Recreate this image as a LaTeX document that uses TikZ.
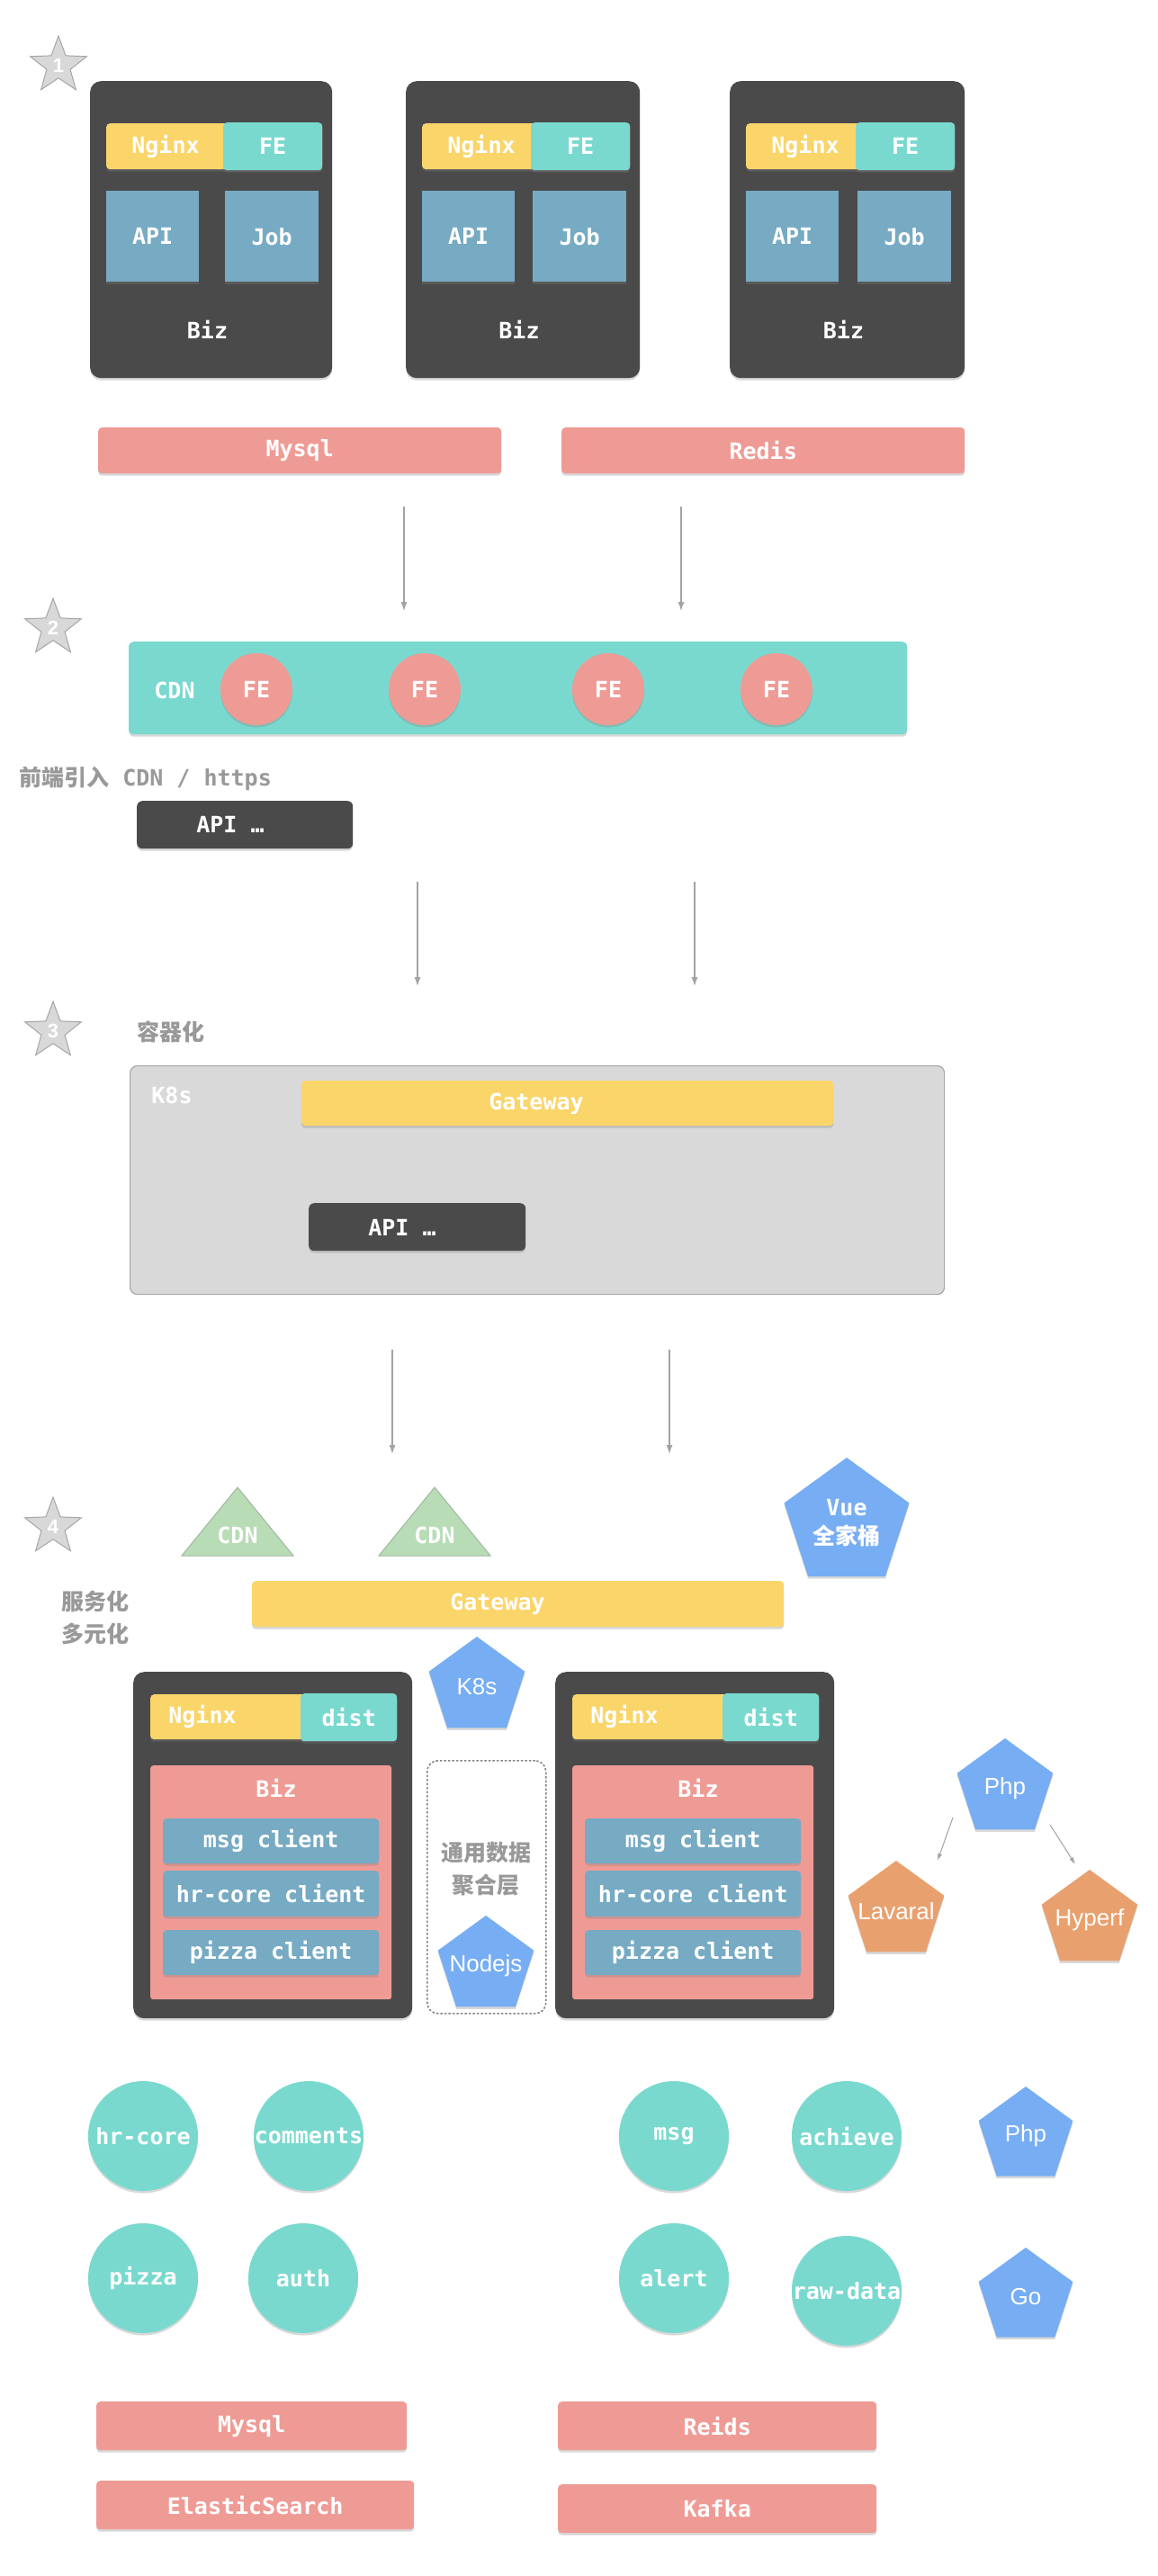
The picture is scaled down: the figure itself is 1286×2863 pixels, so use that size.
\documentclass[tikz,border=0pt]{standalone}
\usepackage{fontspec}
\setmonofont{DejaVu Sans Mono}
\setsansfont{Liberation Sans}
\newfontfamily\cjkFamily{Noto Sans CJK SC}
\usetikzlibrary{positioning, shapes.geometric, shadows, arrows.meta}
\tikzstyle{canvasPx} = [x = 1pt, y = -1pt]
\definecolor{darkGray}{RGB}{74,74,74}
\definecolor{nginxYellow}{RGB}{250,213,106}
\definecolor{feTeal}{RGB}{122,217,207}
\definecolor{apiBlue}{RGB}{119,170,195}
\definecolor{storePink}{RGB}{239,155,149}
\definecolor{k8sGray}{RGB}{217,217,217}
\definecolor{k8sBorder}{RGB}{168,168,168}
\definecolor{cdnGreen}{RGB}{184,220,182}
\definecolor{cdnBorder}{RGB}{160,184,158}
\definecolor{pentaBlue}{RGB}{119,173,243}
\definecolor{pentaOrange}{RGB}{232,161,110}
\definecolor{captionGray}{RGB}{153,153,153}
\definecolor{arrowGray}{RGB}{163,163,163}
\definecolor{layerDash}{RGB}{128,136,128}
\definecolor{starGray}{RGB}{216,216,216}
\definecolor{starBorder}{RGB}{166,166,166}
\newcommand{\monoFont}{\fontsize{25}{30}\selectfont\ttfamily\bfseries}
\newcommand{\sansFont}{\fontsize{26}{30}\selectfont\sffamily}
\newcommand{\cjkFont}{\fontsize{25}{36}\selectfont\cjkFamily\bfseries}
\newcommand{\starFont}{\fontsize{22}{26}\selectfont\sffamily\bfseries}
\tikzstyle{softShadow} = [drop shadow={opacity=0.3, shadow xshift=0pt, shadow yshift=-2.5pt}]
\tikzstyle{boxBase} = [inner sep=0pt, anchor=north west, text=white, font=\monoFont]
\tikzstyle{darkBox} = [boxBase, fill=darkGray, rounded corners=12pt, softShadow]
\tikzstyle{nginxBar} = [boxBase, fill=nginxYellow, rounded corners=4pt, softShadow]
\tikzstyle{feBar} = [boxBase, fill=feTeal, rounded corners=4pt, softShadow]
\tikzstyle{apiBox} = [boxBase, fill=apiBlue, softShadow]
\tikzstyle{clientBox} = [boxBase, fill=apiBlue, rounded corners=4pt, softShadow]
\tikzstyle{pinkBox} = [boxBase, fill=storePink, rounded corners=3pt]
\tikzstyle{storeBar} = [boxBase, fill=storePink, rounded corners=4pt, softShadow]
\tikzstyle{cdnBar} = [boxBase, fill=feTeal, rounded corners=5pt, softShadow]
\tikzstyle{k8sBox} = [boxBase, fill=k8sGray, draw=k8sBorder, line width=1.2pt, rounded corners=8pt]
\tikzstyle{layerBox} = [boxBase, draw=layerDash, line width=1.6pt, dash pattern=on 2.5pt off 2pt, rounded corners=12pt]
\tikzstyle{labelText} = [inner sep=0pt, text=white, font=\monoFont]
\tikzstyle{captionText} = [inner sep=0pt, text=captionGray, font=\monoFont]
\tikzstyle{cjkCaption} = [inner sep=0pt, text=captionGray, font=\cjkFont, align=center]
\tikzstyle{feCircle} = [circle, fill=storePink, minimum size=80pt, inner sep=0pt, text=white, font=\monoFont, softShadow]
\tikzstyle{serviceCircle} = [circle, fill=feTeal, minimum size=122pt, inner sep=0pt, text=white, font=\monoFont, softShadow]
\tikzstyle{pentaShape} = [regular polygon, regular polygon sides=5, inner sep=0pt, softShadow]
\tikzstyle{pentaText} = [inner sep=0pt, text=white, font=\sansFont, align=center]
\tikzstyle{cdnTri} = [fill=cdnGreen, draw=cdnBorder, line width=1pt]
\tikzstyle{stageStar} = [star, star points=5, star point ratio=2.4, minimum size=66pt, inner sep=0pt, fill=starGray, draw=starBorder, line width=1pt]
\tikzstyle{starNumber} = [inner sep=0pt, text=white, font=\starFont]
\tikzstyle{stepArrow} = [draw=arrowGray, line width=1.2pt, -{Latex[length=10pt, width=7pt]}]
\tikzstyle{phpArrow} = [draw=arrowGray, line width=1pt, -{Latex[length=8pt, width=5pt]}]
\newcommand{\boxPanel}[7]{\node[#1, minimum width={(#5)-(#3)}, minimum height={(#6)-(#4)}] (#2) at (#3,#4) {#7};}
\newcommand{\stageMark}[4]{
  \node[stageStar] (#1) at (#2,#3) {};
  \node[starNumber] (#1Num) at (#1) {#4};
}
\newcommand{\pentaNode}[6]{
  \node[pentaShape, fill=#5, minimum size=2*#4] (#1) at (#2,#3) {};
  \node[pentaText] (#1Text) at (#1) {#6};
}
\newcommand{\cdnTriangle}[2]{
  \filldraw[cdnTri] (#2-62,1729) -- (#2,1653) -- (#2+62,1729) -- cycle;
  \node[labelText] (#1) at (#2,1706) {CDN};
}
\newcommand{\bizColumn}[3]{
  \boxPanel{darkBox}{#1}{#2}{90}{#2+#3}{420}{}
  \boxPanel{nginxBar}{#1Nginx}{#2+18}{137}{#2+#3-11}{188}{}
  \boxPanel{feBar}{#1Fe}{#2+#3-121}{136}{#2+#3-11}{189}{FE}
  \node[labelText] (#1NginxText) at (#2+84,163) {Nginx};
  \boxPanel{apiBox}{#1Api}{#2+18}{212}{#2+121}{313}{API}
  \boxPanel{apiBox}{#1Job}{#2+#3-119}{212}{#2+#3-15}{313}{Job}
  \node[labelText] (#1Text) at (#2+#3/2-4,366) {Biz};
}
\newcommand{\serviceColumn}[2]{
  \boxPanel{darkBox}{#1}{#2}{1858}{#2+310}{2243}{}
  \boxPanel{nginxBar}{#1Nginx}{#2+19}{1883}{#2+293}{1933}{}
  \boxPanel{feBar}{#1Dist}{#2+186}{1882}{#2+293}{1935}{dist}
  \node[labelText] (#1NginxText) at (#2+77,1908) {Nginx};
  \boxPanel{pinkBox}{#1Biz}{#2+19}{1962}{#2+287}{2222}{}
  \node[labelText] (#1BizText) at (#2+159,1987) {Biz};
  \boxPanel{clientBox}{#1Msg}{#2+33}{2021}{#2+273}{2071}{msg client}
  \boxPanel{clientBox}{#1HrCore}{#2+33}{2079}{#2+273}{2130}{hr-core client}
  \boxPanel{clientBox}{#1Pizza}{#2+33}{2145}{#2+273}{2195}{pizza client}
}
\begin{document}
\begin{tikzpicture}[canvasPx]
  \fill[white] (0,0) rectangle (1286,2863);
  \useasboundingbox (0,0) rectangle (1286,2863);

  % stage 1: monolith
  \stageMark{starOne}{65}{73}{1}
  \bizColumn{bizOne}{100}{269}
  \bizColumn{bizTwo}{451}{260}
  \bizColumn{bizThree}{811}{261}
  \boxPanel{storeBar}{mysqlOne}{109}{475}{557}{526}{Mysql}
  \boxPanel{storeBar}{redisOne}{624}{475}{1072}{526}{Redis}

  % arrows between stages
  \foreach \ax/\ay in {449/563, 757/563, 464/980, 772/980, 436/1500, 744/1500} {
    \coordinate (arrowTop\ax) at (\ax,\ay);
    \coordinate (arrowTip\ax) at (\ax,\ay+116);
    \draw[stepArrow] (arrowTop\ax) -- (arrowTip\ax);
  }

  % stage 2: cdn
  \stageMark{starTwo}{59}{698}{2}
  \boxPanel{cdnBar}{cdnStrip}{143}{713}{1008}{816}{}
  \node[labelText] (cdnStripText) at (194,767) {CDN};
  \foreach \fx [count=\feIndex] in {285,472,676,863} {
    \node[feCircle] (cdnFe\feIndex) at (\fx,766) {FE};
  }
  \node[captionText, anchor=west] (cdnCaption) at (21,865) {{\cjkFont 前端引入} CDN / https};
  \boxPanel{darkBox, rounded corners=6pt}{apiTwo}{152}{890}{392}{943}{}
  \node[labelText] (apiTwoText) at (256,916) {API …};

  % stage 3: containers
  \stageMark{starThree}{59}{1146}{3}
  \node[cjkCaption, anchor=west] (containerCaption) at (152,1147) {容器化};
  \boxPanel{k8sBox}{k8sCluster}{144}{1184}{1049}{1438}{}
  \node[labelText] (k8sClusterText) at (191,1217) {K8s};
  \boxPanel{nginxBar}{gatewayThree}{335}{1201}{926}{1251}{}
  \node[labelText] (gatewayThreeText) at (596,1227) {Gateway};
  \boxPanel{darkBox, rounded corners=6pt}{apiThree}{343}{1337}{584}{1390}{}
  \node[labelText] (apiThreeText) at (447,1364) {API …};

  % stage 4: services
  \stageMark{starFour}{59}{1697}{4}
  \cdnTriangle{cdnLeft}{264}
  \cdnTriangle{cdnRight}{483}
  \pentaNode{vuePack}{941}{1693}{73}{pentaBlue}{{\monoFont Vue}\\[2pt]{\cjkFont 全家桶}}
  \node[cjkCaption] (multiCaption) at (106,1798) {服务化\\多元化};
  \boxPanel{nginxBar}{gatewayFour}{280}{1757}{871}{1808}{}
  \node[labelText] (gatewayFourText) at (553,1783) {Gateway};
  \pentaNode{k8sPenta}{530}{1875}{56}{pentaBlue}{K8s}
  \serviceColumn{serviceLeft}{148}
  \serviceColumn{serviceRight}{617}
  \boxPanel{layerBox}{aggLayer}{474}{1956}{606}{2237}{}
  \node[cjkCaption] (aggLayerText) at (540,2077) {通用数据\\聚合层};
  \pentaNode{nodeJs}{540}{2185}{56}{pentaBlue}{Nodejs}
  \pentaNode{phpTop}{1117}{1988}{56}{pentaBlue}{Php}
  \pentaNode{lavaral}{996}{2124}{56}{pentaOrange}{Lavaral}
  \pentaNode{hyperf}{1211}{2134}{56}{pentaOrange}{Hyperf}
  \coordinate (phpTopLeftOut) at (1059,2020);
  \coordinate (lavaralIn) at (1042,2068);
  \coordinate (phpTopRightOut) at (1167,2028);
  \coordinate (hyperfIn) at (1195,2072);
  \draw[phpArrow] (phpTopLeftOut) -- (lavaralIn);
  \draw[phpArrow] (phpTopRightOut) -- (hyperfIn);

  % services and storage
  \foreach \sname/\sx/\sy/\stext in {hrCore/159/2374/hr-core, comments/343/2374/comments, pizza/159/2532/pizza, auth/337/2532/auth, msg/749/2374/msg, achieve/941/2374/achieve, alert/749/2532/alert, rawData/941/2546/raw-data} {
    \node[serviceCircle] (\sname) at (\sx,\sy) {\stext};
  }
  \pentaNode{phpBottom}{1140}{2374}{55}{pentaBlue}{Php}
  \pentaNode{goLang}{1140}{2553}{55}{pentaBlue}{Go}
  \boxPanel{storeBar}{mysqlFour}{107}{2669}{452}{2723}{Mysql}
  \boxPanel{storeBar}{reidsFour}{620}{2669}{974}{2723}{Reids}
  \boxPanel{storeBar}{elasticFour}{107}{2757}{460}{2811}{ElasticSearch}
  \boxPanel{storeBar}{kafkaFour}{620}{2761}{974}{2815}{Kafka}
\end{tikzpicture}
\end{document}
